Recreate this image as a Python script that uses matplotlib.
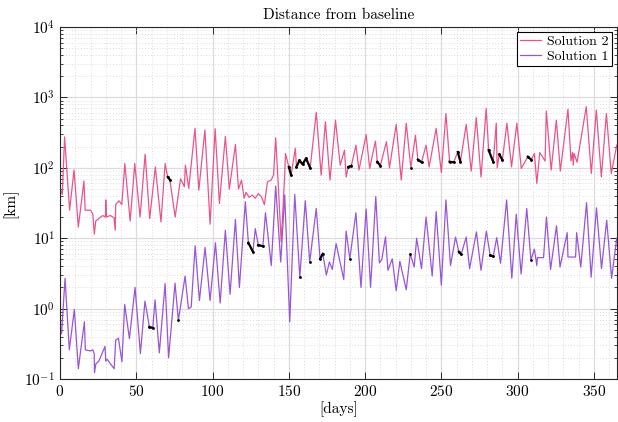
import numpy as np
import matplotlib
matplotlib.use("Agg")
import matplotlib.pyplot as plt
from matplotlib.ticker import MultipleLocator, LogLocator, NullFormatter

plt.rcParams["font.family"] = "serif"
plt.rcParams["font.serif"] = ["cmr10"]
plt.rcParams["mathtext.fontset"] = "cm"
plt.rcParams["axes.formatter.use_mathtext"] = True
plt.rcParams["font.size"] = 11

# Solution 2 (pink), turning points
s2_day = [0, 1.5, 3, 6.3, 9.2, 12, 15.7, 16.5, 20, 21.5, 22.5, 23.4, 26, 28, 29.8, 30, 30.4,
          33, 35.4, 36.2, 36.5, 38.7, 40.5, 42.5, 46, 49, 52.5, 55.8, 58.8, 62.5, 66.2, 68.9,
          70.6, 72, 75.5, 79, 81.5, 82.2, 84.4, 88.5, 91, 95, 98.4, 101.7, 104.5, 108.4, 111,
          115, 117, 119, 120.7, 122, 124, 126, 128, 130, 132, 134, 136, 138.4, 140, 141.4, 143,
          145, 147.3, 147.8, 150, 151.5, 154.3, 155, 157, 159, 161.3, 164, 168, 171.2, 174, 177,
          180.6, 183.7, 186.5, 187.6, 189, 191, 194, 196, 200.7, 203, 206.8, 208, 210, 214, 216,
          220.4, 223.7, 227, 230, 233, 234.6, 237, 240, 242, 246.6, 250, 253, 255.4, 258, 260.8,
          262.5, 266.3, 269.6, 272.9, 276, 279.4, 281, 284, 286, 286.6, 288, 290, 293, 296,
          299.5, 302.4, 306.7, 309, 311, 312.6, 314.5, 318, 318.8, 322, 325.4, 328, 333, 335,
          336, 336.5, 337, 339, 345, 348.3, 351.6, 354.9, 358.2, 361.4, 365]
s2_km = [50, 42, 275, 25, 93, 14.4, 65, 25, 25, 22, 11.4, 17.5, 19.5, 21, 20, 35, 20,
         21, 19.5, 13, 30, 34, 30, 115, 17.5, 115, 20, 156, 19, 103, 17, 115,
         74, 68, 20, 70, 54, 109, 51, 365, 48, 345, 15.8, 360, 31, 280, 50,
         214, 50, 67, 37, 45, 38, 41, 37, 43, 39, 30, 63, 67, 79, 267, 63,
         8.8, 79, 160, 103, 79, 190, 103, 128, 112, 136, 100, 615, 79, 450, 67,
         475, 109, 178, 74, 103, 107, 210, 93, 296, 98, 240, 122, 107, 235, 100,
         415, 67, 430, 100, 290, 131, 120, 210, 103, 365, 86, 590, 122, 120, 168,
         122, 415, 90, 520, 74, 700, 178, 122, 430, 100, 155, 130, 430, 103,
         430, 98, 144, 130, 160, 60, 165, 125, 640, 93, 475, 90, 680, 125,
         165, 109, 160, 120, 740, 83, 660, 74, 590, 83, 210]

# Solution 1 (purple)
s1_day = [0, 1, 3.3, 6.1, 9.4, 12, 16, 16.6, 20, 21.5, 22.4, 22.6, 23.5, 25.5, 29.5, 30, 31,
          33, 35.5, 36.5, 38.3, 40.6, 42.4, 45.5, 49.2, 52.7, 55.7, 58.6, 60.8, 62.3, 65.1,
          68.9, 71.2, 75.4, 77.6, 82, 84.2, 86, 88.6, 91.4, 95.1, 98.4, 101.9, 105, 108.4,
          111.5, 115, 117.6, 121.5, 123.5, 126.5, 128, 130, 133, 134.7, 138.5, 141.4, 144.7,
          147.3, 150.6, 153.9, 157.2, 160.8, 163.7, 168, 170.5, 172.3, 174.6, 176.6, 178.5,
          181, 186, 187.6, 190, 194, 197.3, 200.7, 203.6, 207, 209.4, 211, 213.4, 215, 217.8,
          220.4, 222.8, 227, 229.6, 232.2, 233.8, 237, 240, 244, 246.6, 250, 253, 256, 259.3,
          261.5, 263, 266.3, 268.5, 273, 276, 279.5, 282, 284, 286.3, 288.8, 292.8, 296.2,
          299.1, 302.3, 306, 308.7, 311, 312.6, 313, 317, 318.9, 321.6, 325.5, 327.8, 332.5,
          333, 338, 338.7, 341.4, 345.2, 348.2, 351.7, 355, 358.4, 361.6, 365]
s1_km = [0.49, 0.44, 2.7, 0.26, 0.97, 0.14, 0.65, 0.26, 0.25, 0.26, 0.23, 0.123, 0.164, 0.18,
         0.29, 0.18, 0.19, 0.165, 0.14, 0.355, 0.38, 0.175, 1.15, 0.375, 2.0, 0.23, 1.28, 0.55,
         0.53, 1.33, 0.235, 2.27, 0.2, 2.3, 0.68, 2.9, 1.0, 1.05, 7.8, 1.3, 7.4, 1.3, 8.6, 1.2,
         13, 1.6, 18.5, 2.0, 33, 8.6, 6.4, 13.7, 8, 7.7, 23, 4.1, 55, 4.6, 41, 0.65, 42, 2.8,
         34, 4.6, 26.5, 5.1, 6.0, 3.0, 4.6, 3.6, 8.4, 2.6, 12.6, 5.1, 23, 2.0, 26, 2.0, 39,
         4.45, 5, 10.5, 3.5, 5.1, 1.8, 4.7, 1.85, 6.0, 3.9, 10, 3.7, 20, 2.9, 24, 2.15, 35,
         4.1, 10.4, 6.4, 5.9, 10.4, 3.7, 12.3, 3.5, 12.6, 5.7, 5.5, 10.2, 4.4, 35, 2.7, 22,
         3.1, 26.5, 4.9, 7.0, 4.1, 5.3, 5.3, 20, 3.6, 15, 3.9, 12, 5.4, 5.4, 12, 3.9, 32, 2.8,
         27, 3.7, 18, 2.7, 10]

# day windows drawn in black on top of each curve
s2_black = [(70, 72.5), (150, 151.6), (155, 164.5), (188.5, 191.5), (207.5, 210.5),
            (229.5, 231), (234, 237.5), (255, 258.5), (260, 263), (280.5, 284.5),
            (287.5, 290.5), (306, 309.5)]
s1_black = [(58, 61), (77, 78), (123, 127), (129.5, 133.5), (157, 157.5), (163.5, 164),
            (170, 172.5), (189.5, 190.5), (229, 230), (261, 263.5), (281.5, 284.5),
            (308.5, 309)]

PINK = "#e8558e"
PURPLE = "#9955d5"

fig = plt.figure(figsize=(6.18, 4.22), dpi=100)
ax = fig.add_axes([0.0971, 0.1019, 0.9009, 0.834])

ax.plot(s2_day, s2_km, color=PINK, lw=0.9, label="Solution 2")
ax.plot(s1_day, s1_km, color=PURPLE, lw=0.9, label="Solution 1")

for days, vals, wins in [(s2_day, s2_km, s2_black), (s1_day, s1_km, s1_black)]:
    d = np.array(days)
    v = np.array(vals)
    for a, b in wins:
        m = (d >= a) & (d <= b)
        ax.plot(d[m], v[m], color="black", lw=1.6, marker=".", ms=2)

ax.set_yscale("log")
ax.set_ylim(0.1, 1e4)
ax.set_xlim(0, 365)
ax.xaxis.set_major_locator(MultipleLocator(50))
ax.xaxis.set_minor_locator(MultipleLocator(10))
ax.yaxis.set_major_locator(LogLocator(base=10, numticks=10))
ax.yaxis.set_minor_locator(LogLocator(base=10, subs=np.arange(2, 10), numticks=20))
ax.yaxis.set_minor_formatter(NullFormatter())
ax.tick_params(which="both", direction="in", top=True, right=True, color="#262626")
ax.tick_params(which="major", length=5, width=0.7)
ax.tick_params(axis="y", which="minor", length=2.5, width=0.6)
ax.tick_params(axis="x", which="minor", length=0)
ax.grid(which="major", color="#dcdcdc", lw=0.9)
ax.grid(which="minor", color="#dcdcdc", lw=0.7, ls=(0, (1, 2)))
ax.set_axisbelow(True)
for s in ax.spines.values():
    s.set_linewidth(0.8)
    s.set_color("#262626")

ax.set_title("Distance from baseline", fontsize=11, pad=6)
ax.set_xlabel("[days]", fontsize=11, labelpad=2)
ax.set_ylabel("[km]", fontsize=11, labelpad=4)

leg = ax.legend(loc="upper right", fontsize=10, fancybox=False, framealpha=1,
                edgecolor="black", borderaxespad=0.35, handlelength=1.5,
                handletextpad=0.4, borderpad=0.25, labelspacing=0.15)
leg.get_frame().set_linewidth(0.8)

fig.savefig("out.png", dpi=100)
